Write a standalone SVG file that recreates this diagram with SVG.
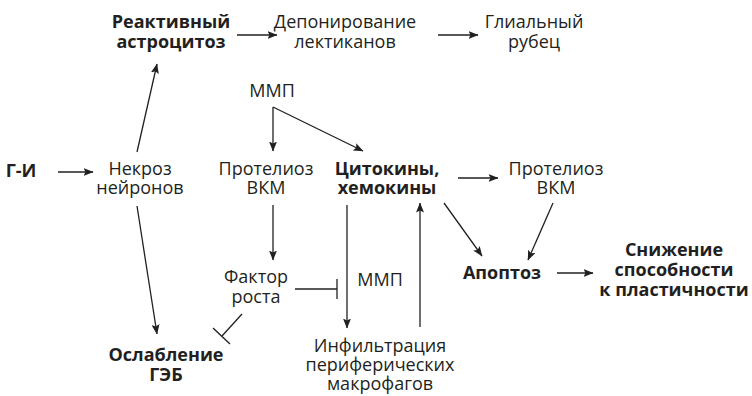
<svg xmlns="http://www.w3.org/2000/svg" width="752" height="396" viewBox="0 0 752 396">
<defs>
<style>
text{font-family:"Open Sans","Noto Sans",sans-serif;font-size:18px;fill:#231f20;text-anchor:middle}
.b{font-weight:bold}
.c line{stroke:#231f20;stroke-width:1.3;fill:none}
</style>
<marker id="a" viewBox="0 0 10 8" refX="9.5" refY="4" markerWidth="10" markerHeight="8" markerUnits="userSpaceOnUse" orient="auto">
<path d="M0,0 L10,4 L0,8 L2,4 Z" fill="#231f20"/>
</marker>
</defs>
<rect width="752" height="396" fill="#fff"/>
<g id="gi"><text class="b" x="21" y="177">Г-И</text></g>
<g id="nekroz"><text x="140" y="175">Некроз</text><text x="140" y="194">нейронов</text></g>
<g id="astro"><text class="b" x="171" y="28">Реактивный</text><text class="b" x="171" y="48">астроцитоз</text></g>
<g id="depon"><text x="345" y="28">Депонирование</text><text x="345" y="48">лектиканов</text></g>
<g id="glia"><text x="534" y="28">Глиальный</text><text x="534" y="48">рубец</text></g>
<g id="mmp1"><text x="272" y="97">ММП</text></g>
<g id="prot1"><text x="266" y="175">Протелиоз</text><text x="266" y="194">ВКМ</text></g>
<g id="cyto"><text class="b" x="387" y="175">Цитокины,</text><text class="b" x="387" y="194">хемокины</text></g>
<g id="prot2"><text x="556" y="175">Протелиоз</text><text x="556" y="194">ВКМ</text></g>
<g id="factor"><text x="256" y="283">Фактор</text><text x="256" y="303">роста</text></g>
<g id="mmp2"><text x="380" y="286">ММП</text></g>
<g id="gheb"><text class="b" x="166" y="361">Ослабление</text><text class="b" x="166" y="381">ГЭБ</text></g>
<g id="infil"><text x="380" y="352">Инфильтрация</text><text x="380" y="371">периферических</text><text x="380" y="390">макрофагов</text></g>
<g id="apopt"><text class="b" x="502" y="279">Апоптоз</text></g>
<g id="sniz"><text class="b" x="674" y="256">Снижение</text><text class="b" x="674" y="276">способности</text><text class="b" x="674" y="296">к пластичности</text></g>
<g id="connectors" class="c">
<line x1="58" y1="172" x2="93" y2="172" marker-end="url(#a)"/>
<line x1="137" y1="152" x2="157" y2="64" marker-end="url(#a)"/>
<line x1="137" y1="206" x2="157" y2="334" marker-end="url(#a)"/>
<line x1="237" y1="35" x2="277" y2="35" marker-end="url(#a)"/>
<line x1="438" y1="35" x2="478" y2="35" marker-end="url(#a)"/>
<line x1="273" y1="107" x2="273" y2="151" marker-end="url(#a)"/>
<line x1="273" y1="107" x2="363" y2="151" marker-end="url(#a)"/>
<line x1="458" y1="178" x2="498" y2="178" marker-end="url(#a)"/>
<line x1="273" y1="205" x2="273" y2="260" marker-end="url(#a)"/>
<line x1="295" y1="289" x2="337" y2="289"/>
<line x1="337" y1="279" x2="337" y2="299"/>
<line x1="242" y1="314" x2="222" y2="336"/>
<line x1="213" y1="328" x2="230" y2="344"/>
<line x1="347" y1="205" x2="347" y2="328" marker-end="url(#a)"/>
<line x1="420" y1="327" x2="420" y2="203" marker-end="url(#a)"/>
<line x1="444" y1="203" x2="482" y2="256" marker-end="url(#a)"/>
<line x1="553" y1="203" x2="528" y2="260" marker-end="url(#a)"/>
<line x1="557" y1="273" x2="593" y2="273" marker-end="url(#a)"/>
</g>
</svg>
